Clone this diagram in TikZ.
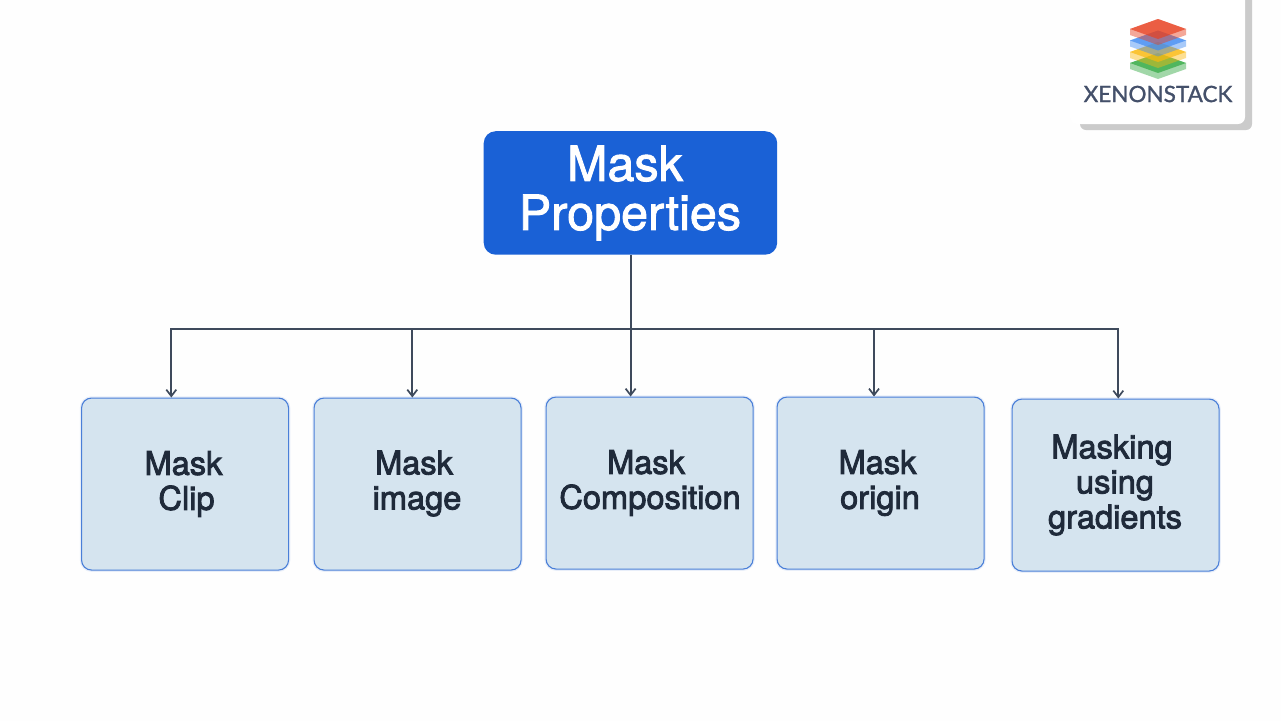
\documentclass[tikz,border=0pt]{standalone}
\usepackage{fontspec}
\setmainfont{TeX Gyre Heros}
\newfontfamily\labelfont[FakeBold=2.6]{TeX Gyre Heros}
\newfontfamily\headfont[FakeBold=1.8]{TeX Gyre Heros}
\newfontfamily\brandfont[FakeBold=1.2]{Lato}
\usetikzlibrary{arrows.meta}
\definecolor{rootblue}{HTML}{1A61D6}
\definecolor{boxfill}{HTML}{D5E4EF}
\definecolor{boxline}{HTML}{4A7FD8}
\definecolor{ink}{HTML}{1F2A3A}
\definecolor{wire}{HTML}{3E4A5C}
\definecolor{cardshadow}{HTML}{CBCBCB}
\definecolor{brand}{HTML}{44506A}
\tikzset{
  rootbox/.style={fill=rootblue, rounded corners=12pt, minimum width=293.5pt, minimum height=123.5pt, inner sep=0pt, anchor=north west},
  itembox/.style={fill=boxfill, draw=boxline, line width=1.1pt, rounded corners=10pt, minimum width=207pt, minimum height=172pt, inner sep=0pt, anchor=north west,
    preaction={draw=boxline, draw opacity=.12, line width=3.5pt}},
  itemtext/.style={text=ink, align=center, font=\labelfont\fontsize{32.6}{35}\selectfont, inner sep=0pt},
  roottext/.style={text=white, align=center, font=\headfont\fontsize{48.5}{49}\selectfont, inner sep=0pt},
  wireline/.style={draw=wire, line width=1.8pt},
  wirearrow/.style={wireline, -{Straight Barb[length=6.5pt,width=10pt,line width=1.7pt]}},
}
\begin{document}
\begin{tikzpicture}[x=1pt,y=-1pt]
\useasboundingbox (0,0) rectangle (1281,721);
\fill[white!99.5!black] (0,0) rectangle (1281,721);

% logo card with its offset shadow
\begin{scope}
\clip (0,0) rectangle (1281,721);
\fill[cardshadow, rounded corners=6pt] (1080,-30) rectangle (1252,130);
\fill[white, rounded corners=7pt] (1070,-30) rectangle (1245,124);
\end{scope}

% stacked layers of the logo, drawn from the bottom up
\foreach \top/\col in {53/2FA83F, 42/FBB90F, 30.5/3F8BF2, 19/E8401F}{
  \definecolor{layer}{HTML}{\col}
  \fill[layer, opacity=.45] (1158,\top) -- (1186,\top+10) -- (1186,\top+16) -- (1158,\top+26) -- (1130,\top+16) -- (1130,\top+10) -- cycle;
  \fill[layer, opacity=.7] (1158,\top) -- (1186,\top+10) -- (1158,\top+20) -- (1130,\top+10) -- cycle;
}
\node[text=brand, font=\brandfont\fontsize{22.5}{23}\selectfont, inner sep=0pt] (brandname) at (1158,94) {XENONSTACK};

% root and item boxes
\node[rootbox] (root) at (483.5,131) {};
\node[roottext] (roottitle) at (630,193) {\hspace*{-10pt}Mask\\Properties};

\node[itembox] (clip) at (81,397.5) {};
\node[itembox] (image) at (313.5,397.5) {};
\node[itembox] (comp) at (545.5,396.5) {};
\node[itembox] (origin) at (776.5,396.5) {};
\node[itembox] (grad) at (1011.5,398.5) {};

\node[itemtext] (cliptext) at (186.5,484) {Mask\hspace*{6pt}\\Clip};
\node[itemtext] (imagetext) at (417,483.5) {Mask\hspace*{6pt}\\image};
\node[itemtext] (comptext) at (650,483) {Mask\hspace*{8pt}\\Composition};
\node[itemtext] (origintext) at (880,483) {Mask\hspace*{5pt}\\origin};
\node[itemtext] (gradtext) at (1115,485) {Masking\hspace*{6pt}\\using\hspace*{6pt}\\gradients};

% connectors: trunk, horizontal bus and one drop per item
\coordinate (busA) at (171.3,329);
\coordinate (busB) at (412.3,329);
\coordinate (busC) at (630.6,329);
\coordinate (busD) at (874,329);
\coordinate (busE) at (1118.3,329);
\draw[wireline] (busC |- root.south) -- (busC);
\draw[wireline, line cap=rect] (busA) -- (busE);
\draw[wirearrow] (busA) -- (busA |- clip.north);
\draw[wirearrow] (busB) -- (busB |- image.north);
\draw[wirearrow] (busC) -- (busC |- comp.north);
\draw[wirearrow] (busD) -- (busD |- origin.north);
\draw[wirearrow] (busE) -- (busE |- grad.north);
\end{tikzpicture}
\end{document}
